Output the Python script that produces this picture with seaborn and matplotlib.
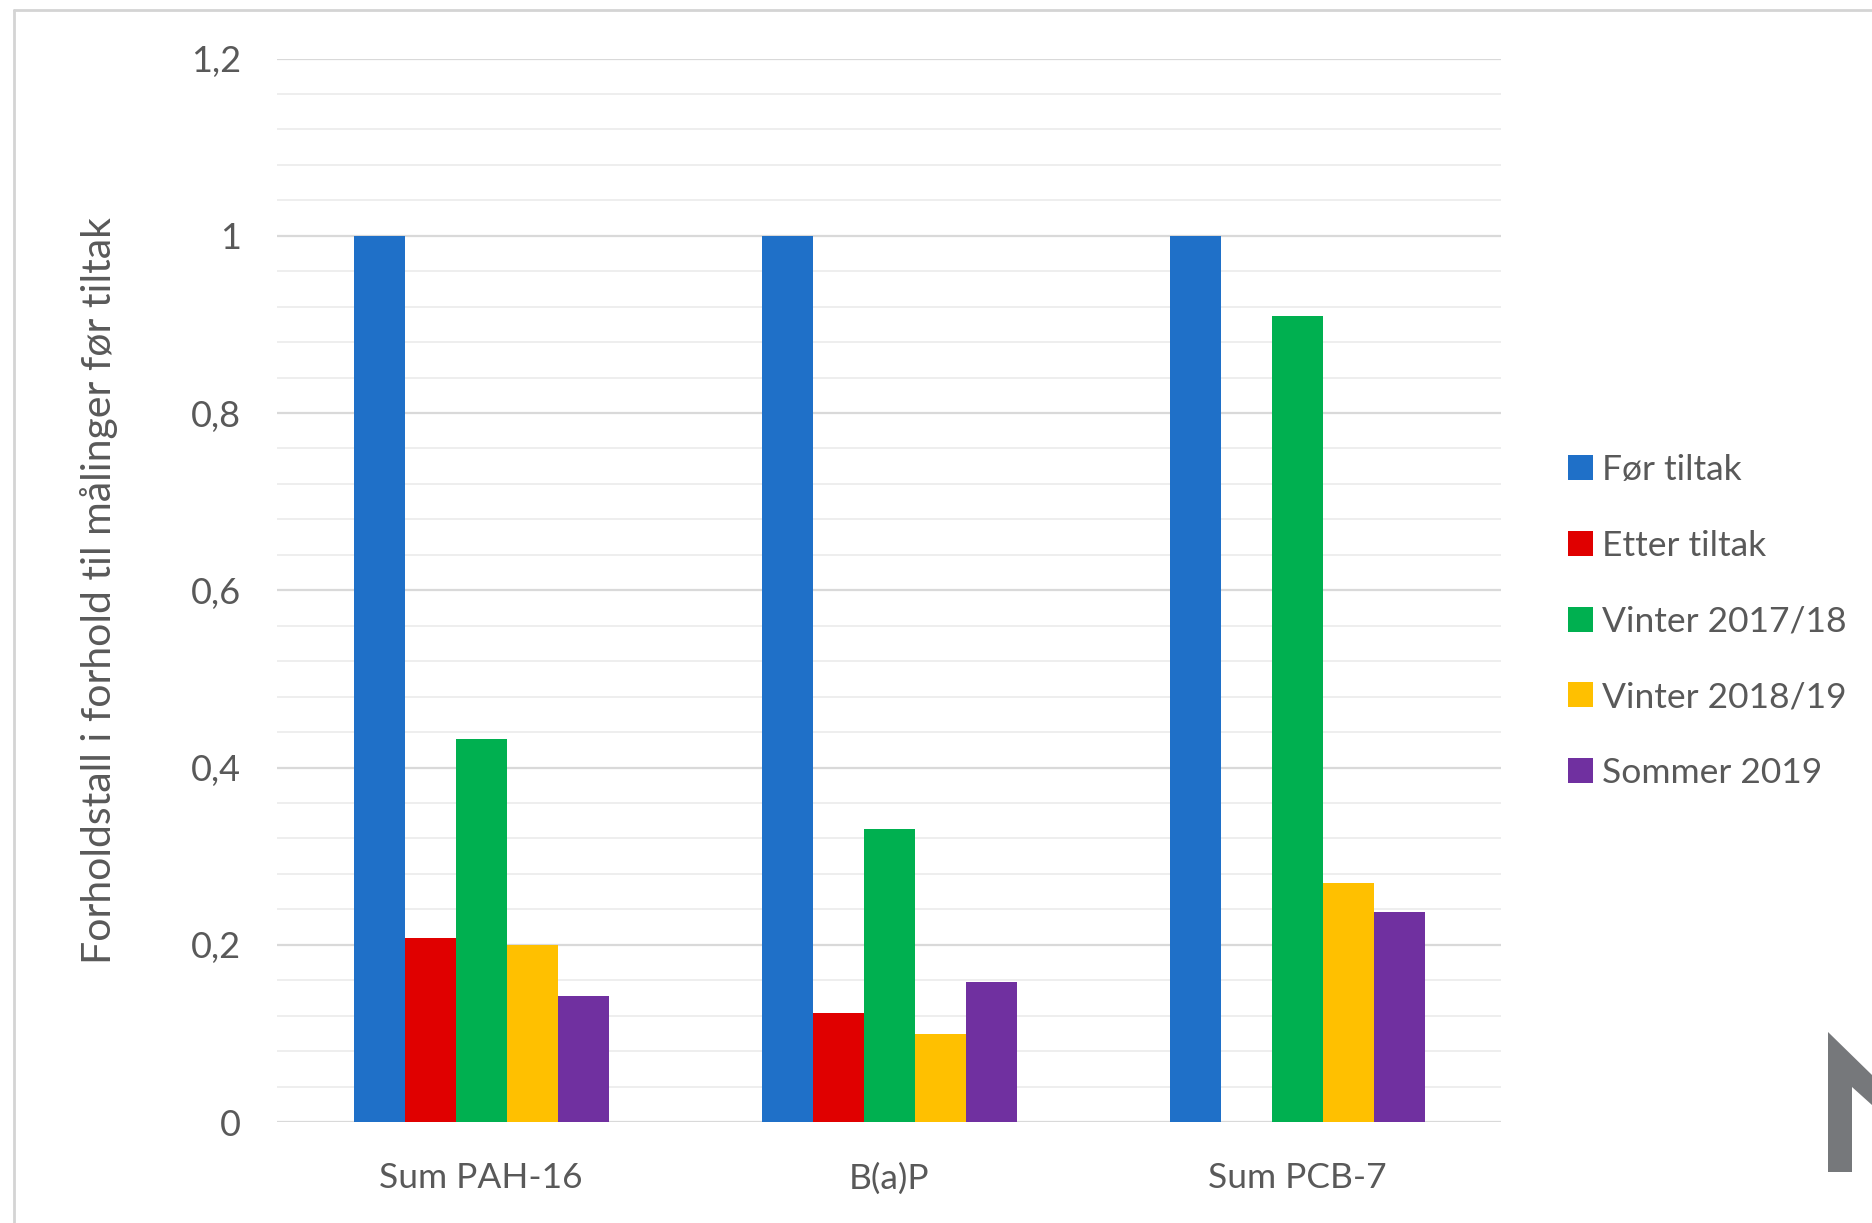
import numpy as np
import pandas as pd
import matplotlib
matplotlib.use("Agg")
import matplotlib.pyplot as plt
import seaborn as sns
from matplotlib.patches import Patch, Polygon
from matplotlib.lines import Line2D

categories = ["Sum PAH-16", "B(a)P", "Sum PCB-7"]
series = ["Før tiltak", "Etter tiltak", "Vinter 2017/18", "Vinter 2018/19", "Sommer 2019"]
for_tiltak = [1.0, 1.0, 1.0]
etter_tiltak = [0.208, 0.123, np.nan]
vinter_1718 = [0.432, 0.331, 0.910]
vinter_1819 = [0.200, 0.099, 0.270]
sommer_2019 = [0.142, 0.158, 0.237]
colors = ["#1F70C8", "#E00000", "#00B050", "#FFC000", "#7030A0"]
ytick_vals = [0, 0.2, 0.4, 0.6, 0.8, 1.0, 1.2]
ytick_labels = ["0", "0,2", "0,4", "0,6", "0,8", "1", "1,2"]
ylabel = "Forholdstall i forhold til målinger før tiltak"

values = [for_tiltak, etter_tiltak, vinter_1718, vinter_1819, sommer_2019]
rows = []
for s, vals in zip(series, values):
    for c, v in zip(categories, vals):
        rows.append({"Kategori": c, "Serie": s, "Verdi": v})
df = pd.DataFrame(rows).dropna()

sns.set_theme(style="white")
plt.rcParams["font.family"] = ["Lato", "DejaVu Sans"]
TXT = "#595959"

W, H = 1872, 1223
fig = plt.figure(figsize=(W / 100, H / 100), dpi=100)
fig.patch.set_facecolor("white")
ax = fig.add_axes([277 / W, 1 - 1122 / H, (1501 - 277) / W, (1122 - 58.5) / H])

sns.barplot(data=df, x="Kategori", y="Verdi", hue="Serie", order=categories,
            hue_order=series, palette=colors, width=0.625, dodge=True, gap=0,
            saturation=1, errorbar=None, linewidth=0, legend=False, ax=ax, zorder=3)

ax.set_xlim(-0.5, 2.5)
ax.set_ylim(0, 1.2)
ax.set_yticks(ytick_vals)
ax.set_yticklabels(ytick_labels)
ax.grid(False)
for y in np.arange(0, 1.2001, 0.04):
    major = abs((y / 0.2) - round(y / 0.2)) < 1e-6
    ax.axhline(y, color="#d9d9d9" if major else "#ededed",
               lw=1.6 if major else 1.3, zorder=1)
for sp in ax.spines.values():
    sp.set_visible(False)
ax.tick_params(axis="y", which="both", length=0, pad=26, labelsize=26, labelcolor=TXT)
ax.tick_params(axis="x", length=0, pad=29, labelsize=25.5, labelcolor=TXT)
ax.set_xlabel("")
ax.set_ylabel("")
fig.text(99 / W, 1 - 591 / H, ylabel, rotation=90, ha="center", va="center",
         fontsize=29.5, color=TXT)

handles = [Patch(facecolor=c, edgecolor="none") for c in colors]
fig.legend(handles, series, loc="center left",
           bbox_to_anchor=(1568 / W, 1 - 621.5 / H), frameon=False,
           fontsize=25.5, labelcolor=TXT, handlelength=0.71, handleheight=0.71,
           handletextpad=0.26, labelspacing=1.23, borderpad=0, borderaxespad=0)

# outer frame lines (left and top)
fig.add_artist(Line2D([14 / W, 14 / W], [0, 1 - 10 / H], transform=fig.transFigure,
                      color="#d4d4d4", lw=2))
fig.add_artist(Line2D([14 / W, 1], [1 - 10 / H, 1 - 10 / H], transform=fig.transFigure,
                      color="#d4d4d4", lw=2))

# partial logo in bottom-right corner
logo = [(1828, 1032), (1872, 1075), (1872, 1105), (1852, 1087), (1852, 1172), (1828, 1172)]
fig.add_artist(Polygon([(x / W, 1 - y / H) for x, y in logo], closed=True,
                       transform=fig.transFigure, facecolor="#76787b", edgecolor="none"))

fig.savefig("out.png", dpi=100)
